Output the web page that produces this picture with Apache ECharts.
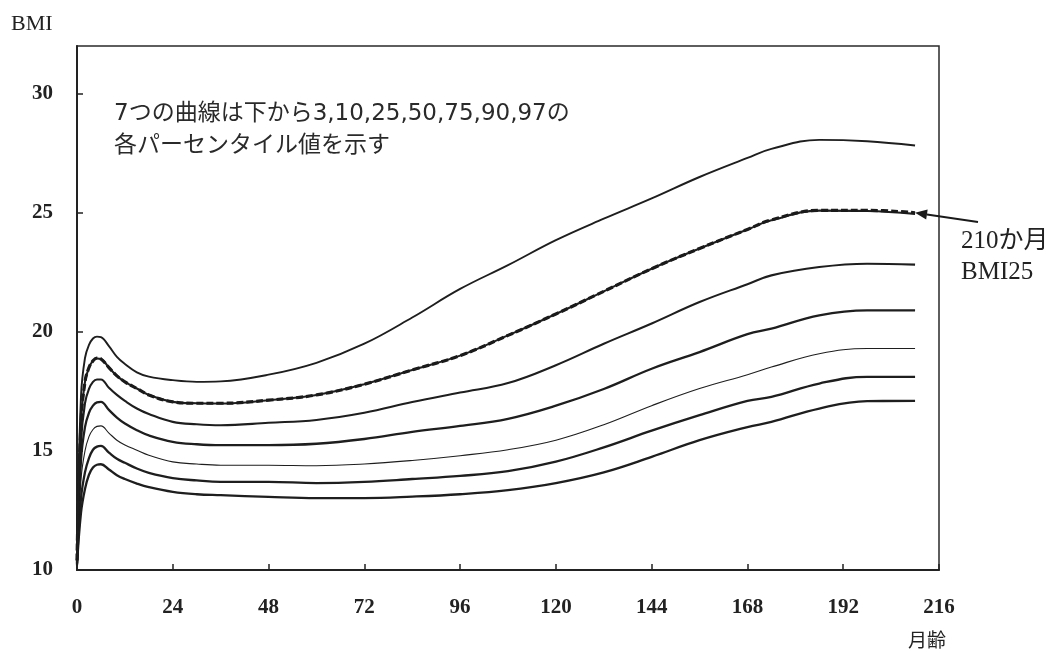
<!DOCTYPE html>
<html>
<head>
<meta charset="utf-8">
<script src="https://cdn.jsdelivr.net/npm/echarts@6/dist/echarts.min.js"></script>
<style>
html,body{margin:0;padding:0;background:#fff;}
#c{width:1054px;height:653px;}
</style>
</head>
<body>
<div id="c"></div>
<script>
// months of age
const months = [0,1,2,3,4,5,6,8,10,12,15,18,24,30,36,48,60,72,84,96,108,120,132,144,156,168,174,186,198,210];
// percentile curves (BMI)
const p97 = [10.5,17.3,18.9,19.45,19.72,19.8,19.78,19.4,18.95,18.65,18.3,18.12,17.97,17.9,17.92,18.2,18.7,19.5,20.6,21.8,22.8,23.85,24.75,25.6,26.5,27.3,27.68,28.06,28.0,27.82];
const p90 = [10.4,16.2,17.9,18.5,18.78,18.88,18.86,18.5,18.15,17.9,17.62,17.35,17.06,17.0,16.99,17.13,17.35,17.8,18.4,19.0,19.85,20.75,21.7,22.65,23.5,24.3,24.68,25.09,25.07,24.95];
const bmi25 = [10.4,16.2,17.9,18.5,18.78,18.9,18.86,18.5,18.15,17.9,17.62,17.35,17.06,17.0,17.0,17.13,17.35,17.8,18.4,19.0,19.85,20.75,21.7,22.65,23.5,24.3,24.7,25.1,25.1,25.0];
const p75 = [10.4,15.4,17.0,17.6,17.9,18.0,18.0,17.65,17.35,17.1,16.78,16.55,16.22,16.12,16.08,16.18,16.3,16.6,17.05,17.45,17.85,18.6,19.5,20.35,21.25,22.0,22.37,22.72,22.86,22.82];
const p50 = [10.3,14.6,16.0,16.6,16.9,17.04,17.06,16.72,16.4,16.15,15.87,15.65,15.38,15.28,15.24,15.24,15.3,15.5,15.8,16.05,16.35,16.9,17.6,18.45,19.15,19.9,20.13,20.69,20.9,20.9];
const p25 = [10.3,13.8,15.0,15.6,15.9,16.03,16.05,15.75,15.45,15.25,15.03,14.82,14.54,14.45,14.4,14.4,14.38,14.45,14.6,14.8,15.05,15.45,16.1,16.9,17.62,18.2,18.52,19.08,19.3,19.3];
const p10 = [10.25,13.0,14.1,14.7,15.05,15.18,15.21,14.93,14.67,14.5,14.26,14.08,13.86,13.76,13.7,13.7,13.65,13.7,13.82,13.95,14.15,14.55,15.15,15.85,16.5,17.1,17.27,17.83,18.11,18.11];
const p3 = [10.2,12.4,13.4,14.0,14.3,14.42,14.44,14.22,13.98,13.82,13.63,13.48,13.28,13.18,13.14,13.07,13.02,13.02,13.08,13.18,13.35,13.65,14.1,14.75,15.45,16.0,16.22,16.78,17.09,17.1];
// tick labels
const xTicks = [0,24,48,72,96,120,144,168,192,216];
const yTicks = [10,15,20,25,30];
const note1 = '7つの曲線は下から3,10,25,50,75,90,97の';
const note2 = '各パーセンタイル値を示す';
const arrowLabel = '210か月\nBMI25';
const arrowTarget = [210, 25];

const pair = arr => months.map((m, i) => [m, arr[i]]);
const lineColor = '#1e1e1e';
function curve(name, arr, width, extra) {
  return Object.assign({
    name: name, type: 'line', data: pair(arr), showSymbol: false, symbol: 'none',
    smooth: 0.4, silent: true,
    lineStyle: { color: lineColor, width: width }
  }, extra || {});
}

const chart = echarts.init(document.getElementById('c'), null, { renderer: 'canvas' });
const serif = '"Liberation Serif", "Times New Roman", serif';
chart.setOption({
  animation: false,
  backgroundColor: '#ffffff',
  grid: { left: 77, right: 115, top: 46, bottom: 83, show: true, borderColor: '#2a2a2a', borderWidth: 1.5, backgroundColor: 'transparent' },
  xAxis: {
    type: 'value', min: 0, max: 216, interval: 24,
    axisLine: { show: true, lineStyle: { color: '#222', width: 2 } },
    axisTick: { show: true, inside: true, length: 6, lineStyle: { color: '#222', width: 1.5 }, customValues: xTicks },
    axisLabel: { customValues: xTicks, margin: 27, color: '#222', fontFamily: serif, fontWeight: 'bold', fontSize: 21 },
    splitLine: { show: false }
  },
  yAxis: {
    type: 'value', min: 10, max: 32, interval: 5,
    axisLine: { show: true, lineStyle: { color: '#222', width: 2 } },
    axisTick: { show: true, inside: true, length: 6, lineStyle: { color: '#222', width: 1.5 }, customValues: yTicks },
    axisLabel: { customValues: yTicks, margin: 24, color: '#222', fontFamily: serif, fontWeight: 'bold', fontSize: 21 },
    splitLine: { show: false }
  },
  series: [
    curve('3', p3, 2.3),
    curve('10', p10, 2.3),
    curve('25', p25, 1.1),
    curve('50', p50, 2.3),
    curve('75', p75, 2.1),
    curve('90', p90, 2.1),
    curve('BMI25', bmi25, 3.2, { lineStyle: { color: '#1a1a1a', width: 3.2, type: [7, 3] }, z: 3 }),
    curve('97', p97, 1.9)
  ]
});

// arrow pointing at the BMI25 curve end
const tip = chart.convertToPixel({ gridIndex: 0 }, arrowTarget);
const tail = [978, 222];
const dx = tip[0] - tail[0], dy = tip[1] - tail[1];
const len = Math.sqrt(dx * dx + dy * dy);
const ux = dx / len, uy = dy / len;
const hl = 12, hw = 5;
const bx = tip[0] - ux * hl, by = tip[1] - uy * hl;
chart.setOption({
  graphic: [
    { id: 'bmi', type: 'text', left: 11, top: 13, style: { text: 'BMI', font: '22px ' + serif, fill: '#222' } },
    { id: 'age', type: 'text', left: 908, top: 630, style: { text: '月齢', font: '19px "Noto Sans CJK JP"', fill: '#222' } },
    { id: 'n1', type: 'text', left: 114, top: 103, style: { text: note1, font: '23px "DejaVu Sans", "Noto Sans CJK JP"', fill: '#2a2a2a' } },
    { id: 'n2', type: 'text', left: 114, top: 132, style: { text: note2, font: '23px "Noto Sans CJK JP"', fill: '#2a2a2a' } },
    { id: 'lab', type: 'text', left: 961, top: 226, style: { text: arrowLabel, font: '25px ' + serif + ', "Noto Sans CJK JP"', fill: '#222', lineHeight: 31 } },
    { id: 'aline', type: 'line', shape: { x1: tail[0], y1: tail[1], x2: bx, y2: by }, style: { stroke: '#1a1a1a', lineWidth: 2 }, z: 10 },
    { id: 'ahead', type: 'polygon', shape: { points: [[tip[0], tip[1]], [bx - uy * hw, by + ux * hw], [bx + uy * hw, by - ux * hw]] }, style: { fill: '#1a1a1a' }, z: 10 }
  ]
});
</script>
</body>
</html>
